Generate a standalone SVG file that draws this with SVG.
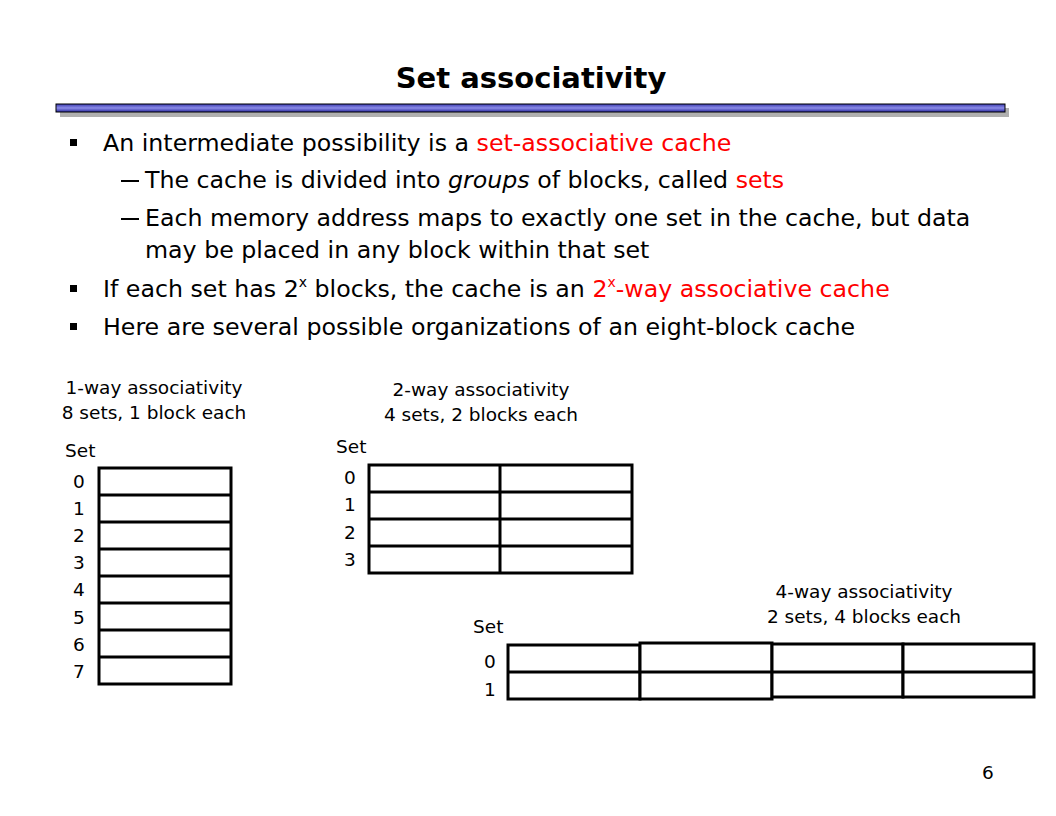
<svg xmlns="http://www.w3.org/2000/svg" width="1056" height="816" viewBox="0 0 1056 816">
<defs>
<linearGradient id="barg" x1="0" y1="0" x2="0" y2="1">
<stop offset="0" stop-color="#3a3ab0"/>
<stop offset="0.5" stop-color="#8c8ce8"/>
<stop offset="1" stop-color="#2a2aa0"/>
</linearGradient>
</defs>
<style>
text{font-family:"DejaVu Sans",sans-serif;fill:#000}
.title{font-size:29px;font-weight:bold}
.body{font-size:23.7px}
.red{fill:#ff0000}
.lbl{font-size:18.5px}
.grid{fill:#fff;stroke:#000;stroke-width:3}
.ln{stroke:#000;stroke-width:3}
</style>
<rect width="1056" height="816" fill="#fff"/>
<g id="title">
<text class="title" x="531" y="88" text-anchor="middle">Set associativity</text>
<rect x="60" y="108" width="949" height="9" fill="#b0b0b0"/>
<rect x="56" y="104" width="949" height="8" fill="url(#barg)" stroke="#000" stroke-width="1"/>
</g>
<g id="bullets">
<rect x="70" y="139" width="7" height="7"/>
<text class="body" x="103" y="151">An intermediate possibility is a <tspan class="red">set-associative cache</tspan></text>
<rect x="121" y="180" width="18" height="2"/>
<text class="body" x="145" y="188">The cache is divided into <tspan font-style="italic">groups</tspan> of blocks, called <tspan class="red">sets</tspan></text>
<rect x="121" y="218" width="18" height="2"/>
<text class="body" x="145" y="226">Each memory address maps to exactly one set in the cache, but data</text>
<text class="body" x="145" y="258">may be placed in any block within that set</text>
<rect x="70" y="285" width="7" height="7"/>
<text class="body" x="103" y="297">If each set has 2<tspan font-size="14" dy="-10">x</tspan><tspan dy="10"> blocks, the cache is an </tspan><tspan class="red">2<tspan font-size="14" dy="-10">x</tspan><tspan dy="10">-way associative cache</tspan></tspan></text>
<rect x="70" y="323" width="7" height="7"/>
<text class="body" x="103" y="335">Here are several possible organizations of an eight-block cache</text>
</g>
<g id="oneway">
<text class="lbl" x="154" y="394" text-anchor="middle">1-way associativity</text>
<text class="lbl" x="154" y="419" text-anchor="middle">8 sets, 1 block each</text>
<text class="lbl" x="65" y="457">Set</text>
<text class="lbl" x="79" y="488" text-anchor="middle">0</text>
<text class="lbl" x="79" y="515" text-anchor="middle">1</text>
<text class="lbl" x="79" y="542" text-anchor="middle">2</text>
<text class="lbl" x="79" y="569" text-anchor="middle">3</text>
<text class="lbl" x="79" y="596" text-anchor="middle">4</text>
<text class="lbl" x="79" y="624" text-anchor="middle">5</text>
<text class="lbl" x="79" y="651" text-anchor="middle">6</text>
<text class="lbl" x="79" y="678" text-anchor="middle">7</text>
<rect class="grid" x="99" y="468" width="132" height="216"/>
<line class="ln" x1="99" y1="495" x2="231" y2="495"/>
<line class="ln" x1="99" y1="522" x2="231" y2="522"/>
<line class="ln" x1="99" y1="549" x2="231" y2="549"/>
<line class="ln" x1="99" y1="576" x2="231" y2="576"/>
<line class="ln" x1="99" y1="603" x2="231" y2="603"/>
<line class="ln" x1="99" y1="630" x2="231" y2="630"/>
<line class="ln" x1="99" y1="657" x2="231" y2="657"/>
</g>
<g id="twoway">
<text class="lbl" x="481" y="396" text-anchor="middle">2-way associativity</text>
<text class="lbl" x="481" y="421" text-anchor="middle">4 sets, 2 blocks each</text>
<text class="lbl" x="336" y="453">Set</text>
<text class="lbl" x="350" y="484" text-anchor="middle">0</text>
<text class="lbl" x="350" y="511" text-anchor="middle">1</text>
<text class="lbl" x="350" y="539" text-anchor="middle">2</text>
<text class="lbl" x="350" y="566" text-anchor="middle">3</text>
<rect class="grid" x="369" y="465" width="263" height="108"/>
<line class="ln" x1="500" y1="465" x2="500" y2="573"/>
<line class="ln" x1="369" y1="492" x2="632" y2="492"/>
<line class="ln" x1="369" y1="519" x2="632" y2="519"/>
<line class="ln" x1="369" y1="546" x2="632" y2="546"/>
</g>
<g id="fourway">
<text class="lbl" x="864" y="598" text-anchor="middle">4-way associativity</text>
<text class="lbl" x="864" y="623" text-anchor="middle">2 sets, 4 blocks each</text>
<text class="lbl" x="473" y="633">Set</text>
<text class="lbl" x="490" y="668" text-anchor="middle">0</text>
<text class="lbl" x="490" y="696" text-anchor="middle">1</text>
<rect class="grid" x="508" y="645" width="132" height="54"/>
<rect class="grid" x="640" y="643" width="132" height="56"/>
<rect class="grid" x="772" y="644" width="131" height="53"/>
<rect class="grid" x="903" y="644" width="131" height="53"/>
<line class="ln" x1="508" y1="672" x2="1034" y2="672"/>
</g>
<text class="lbl" x="988" y="779" text-anchor="middle" font-size="20">6</text>
</svg>
